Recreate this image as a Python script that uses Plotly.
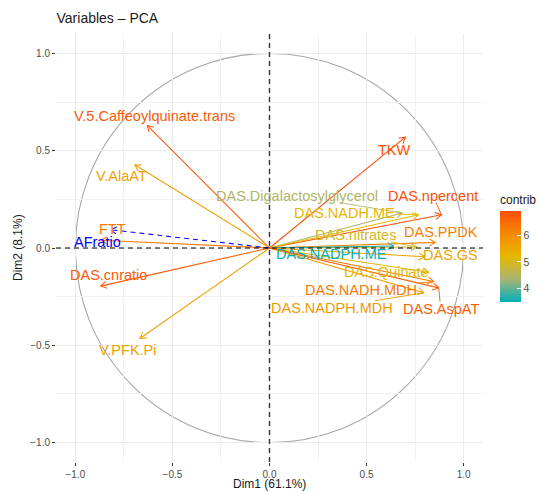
import numpy as np
import plotly.graph_objects as go
import plotly.colors as pc

# ---------------- data ----------------
variables = ["TKW", "DAS.npercent", "DAS.Digalactosylglycerol", "DAS.NADH.ME",
             "DAS.PPDK", "DAS.nitrates", "DAS.NADPH.ME", "DAS.GS", "DAS.Quinate",
             "DAS.NADH.MDH", "DAS.NADPH.MDH", "DAS.AspAT",
             "V.5.Caffeoylquinate.trans", "V.AlaAT", "FTT", "DAS.cnratio", "V.PFK.Pi"]
dim1 = [0.70, 0.886, 0.684, 0.769, 0.855, 0.76, 0.64, 0.80, 0.82,
        0.846, 0.795, 0.872, -0.63, -0.694, -0.87, -0.87, -0.668]
dim2 = [0.57, 0.171, 0.18, 0.171, 0.029, 0.005, 0.01, -0.045, -0.125,
        -0.172, -0.23, -0.205, 0.63, 0.428, 0.04, -0.196, -0.465]
contrib = [6.93, 6.92, 4.45, 5.25, 6.2, 4.95, 3.5, 5.6, 5.1,
           6.3, 5.8, 6.7, 6.75, 5.65, 6.3, 6.75, 5.63]

sup_variables = ["AFratio"]
sup_dim1 = [-0.82]
sup_dim2 = [0.094]

contrib_range = [3.47, 6.94]
colorbar_ticks = [4, 5, 6]
axis_ticks = [-1.0, -0.5, 0.0, 0.5, 1.0]
axis_ticktext = ["\u22121.0", "\u22120.5", "0.0", "0.5", "1.0"]
minor_ticks = [-0.75, -0.25, 0.25, 0.75]

title_text = "Variables \u2013 PCA"
xlab = "Dim1 (61.1%)"
ylab = "Dim2 (8.1%)"

# ------------- label placement (repel-like, data coords) -------------
label_x = [0.646, 0.841, 0.144, 0.385, 0.882, 0.441, 0.318, 0.933, 0.605,
           0.472, 0.323, 0.882, -0.590, -0.764, -0.810, -0.831, -0.728]
label_y = [0.505, 0.269, 0.269, 0.181, 0.083, 0.068, -0.029, -0.034, -0.121,
           -0.214, -0.307, -0.312, 0.680, 0.371, 0.099, -0.137, -0.522]
sup_label_x = [-0.887]
sup_label_y = [0.032]

# ------------- layout geometry -------------
W, H = 539, 492
ML, MR, MT, MB = 56, 56, 34, 30
XR = [-1.1, 1.1]
YR = [-1.1, 1.1]
pw, ph = W - ML - MR, H - MT - MB
sx = pw / (XR[1] - XR[0])
sy = ph / (YR[1] - YR[0])

FONT = "Liberation Sans, Arial, Helvetica, sans-serif"
LAB_SIZE = 14.5

colorscale = [[0.0, "#00AFBB"], [0.25, "#A8B474"], [0.5, "#E7B800"],
              [0.75, "#F48901"], [1.0, "#FC4E07"]]

# approximate Arial advance widths (em) for label box estimates
_CW = dict(zip("ABCDEFGHIJKLMNOPQRSTUVWXYZ",
               [.667, .667, .722, .722, .667, .611, .778, .722, .278, .5, .667, .556, .833,
                .722, .778, .667, .778, .722, .667, .611, .722, .667, .944, .667, .667, .611]))
_CW.update(dict(zip("abcdefghijklmnopqrstuvwxyz",
                    [.556, .556, .5, .556, .556, .278, .556, .556, .222, .222, .5, .222, .833,
                     .556, .556, .556, .556, .333, .5, .278, .556, .5, .722, .5, .5, .5])))
_CW.update({c: .556 for c in "0123456789"})
_CW["."] = .278


def text_width(s, size):
    return sum(_CW.get(ch, .556) for ch in s) * size


def col_for(c):
    t = (c - contrib_range[0]) / (contrib_range[1] - contrib_range[0])
    t = min(max(t, 0), 1)
    return pc.sample_colorscale(colorscale, [t])[0]


def arrow_xy(tx, ty, head_px=7.0, ang=np.deg2rad(30)):
    dx, dy = tx * sx, ty * sy
    L = np.hypot(dx, dy)
    ux, uy = dx / L, dy / L
    xs = [0, tx, None]
    ys = [0, ty, None]
    pts = []
    for s in (1, -1):
        ca, sa = np.cos(s * ang), np.sin(s * ang)
        rx = ux * ca - uy * sa
        ry = ux * sa + uy * ca
        pts.append((tx - head_px * rx / sx, ty - head_px * ry / sy))
    xs += [pts[0][0], tx, pts[1][0], None]
    ys += [pts[0][1], ty, pts[1][1], None]
    return xs, ys


def segment(lx, ly, tx, ty, text, thresh=8.0):
    w = text_width(text, LAB_SIZE) / 2 + 1
    h = 7.0
    dx, dy = (tx - lx) * sx, (ty - ly) * sy
    if abs(dx) <= w and abs(dy) <= h:
        return None
    t = min(w / abs(dx) if dx != 0 else 1e9, h / abs(dy) if dy != 0 else 1e9)
    L = np.hypot(dx, dy)
    if (1 - t) * L < thresh:
        return None
    return [lx + t * (tx - lx), tx], [ly + t * (ty - ly), ty]


fig = go.Figure()

# correlation circle
fig.add_shape(type="circle", xref="x", yref="y", x0=-1, y0=-1, x1=1, y1=1,
              line=dict(color="#A6A6A6", width=1.1), layer="below")

annotations = []
colors = [col_for(c) for c in contrib]

for name, x, y, c, lx, ly in zip(variables, dim1, dim2, colors, label_x, label_y):
    xs, ys = arrow_xy(x, y)
    fig.add_trace(go.Scatter(x=xs, y=ys, mode="lines",
                             line=dict(color=c, width=1.05),
                             hoverinfo="skip", showlegend=False))
    seg = segment(lx, ly, x, y, name)
    if seg is not None:
        fig.add_trace(go.Scatter(x=seg[0], y=seg[1], mode="lines",
                                 line=dict(color=c, width=0.9),
                                 hoverinfo="skip", showlegend=False))
    annotations.append(dict(x=lx, y=ly, xref="x", yref="y", text=name,
                            showarrow=False, font=dict(color=c, size=LAB_SIZE, family=FONT),
                            xanchor="center", yanchor="middle"))

for name, x, y, lx, ly in zip(sup_variables, sup_dim1, sup_dim2, sup_label_x, sup_label_y):
    xs, ys = arrow_xy(x, y)
    fig.add_trace(go.Scatter(x=xs, y=ys, mode="lines",
                             line=dict(color="#0000FF", width=1.05, dash="5px,4px"),
                             hoverinfo="skip", showlegend=False))
    annotations.append(dict(x=lx, y=ly, xref="x", yref="y", text=name,
                            showarrow=False, font=dict(color="#0000FF", size=LAB_SIZE, family=FONT),
                            xanchor="center", yanchor="middle"))

# dashed reference lines
fig.add_trace(go.Scatter(x=[XR[0], XR[1]], y=[0, 0], mode="lines",
                         line=dict(color="black", width=1.1, dash="5px,4px"),
                         hoverinfo="skip", showlegend=False))
fig.add_trace(go.Scatter(x=[0, 0], y=[YR[0], YR[1]], mode="lines",
                         line=dict(color="#333333", width=1.4, dash="5px,4px"),
                         hoverinfo="skip", showlegend=False))

# colorbar carrier
fig.add_trace(go.Scatter(
    x=[None], y=[None], mode="markers", hoverinfo="skip", showlegend=False,
    marker=dict(colorscale=colorscale, cmin=contrib_range[0], cmax=contrib_range[1],
                color=[5], showscale=True,
                colorbar=dict(x=(500 - ML) / pw, xanchor="left", xref="paper",
                              y=(H - MB - 192) / ph, yanchor="top", yref="paper",
                              len=110, lenmode="pixels", thickness=21,
                              outlinewidth=0, xpad=0, ypad=0,
                              ticks="inside", ticklen=4, tickcolor="white", tickwidth=1,
                              tickvals=colorbar_ticks,
                              tickfont=dict(size=10.5, color="#4D4D4D", family=FONT),
                              title=dict(text="contrib", side="top",
                                         font=dict(size=12, color="#1A1A1A", family=FONT))))))

# axis titles & plot title
annotations.append(dict(x=0.5, y=(H - MB - 484) / ph, xref="paper", yref="paper",
                        text=xlab, showarrow=False, xanchor="center", yanchor="middle",
                        font=dict(size=12, color="#1A1A1A", family=FONT)))
annotations.append(dict(x=(18 - ML) / pw, y=(H - MB - 248) / ph, xref="paper", yref="paper",
                        text=ylab, showarrow=False, xanchor="center", yanchor="middle",
                        textangle=-90, font=dict(size=12, color="#1A1A1A", family=FONT)))

axis_common = dict(
    tickvals=axis_ticks, ticktext=axis_ticktext,
    showgrid=True, gridcolor="#EBEBEB", gridwidth=1,
    minor=dict(tickvals=minor_ticks, showgrid=True, gridcolor="#F1F1F1", gridwidth=0.6, ticks=""),
    zeroline=False, showline=False, automargin=False,
    ticks="outside", ticklen=3, tickcolor="#333333", tickwidth=1,
    tickfont=dict(size=10, color="#4D4D4D", family=FONT),
)

fig.update_layout(
    template="none",
    width=W, height=H, autosize=False,
    margin=dict(l=ML, r=MR, t=MT, b=MB, pad=0, autoexpand=False),
    paper_bgcolor="white", plot_bgcolor="white",
    font=dict(family=FONT),
    title=dict(text=title_text, x=ML / W + 0.001, xanchor="left", xref="container",
               y=1 - 18 / H, yanchor="middle", yref="container",
               font=dict(size=14, color="#1A1A1A", family=FONT)),
    xaxis=dict(range=XR, **axis_common),
    yaxis=dict(range=YR, **axis_common),
    annotations=annotations,
    showlegend=False,
)

fig.write_html("out.html", config={"displayModeBar": False},
               post_script="document.body.style.margin='0px';document.body.style.padding='0px';")
